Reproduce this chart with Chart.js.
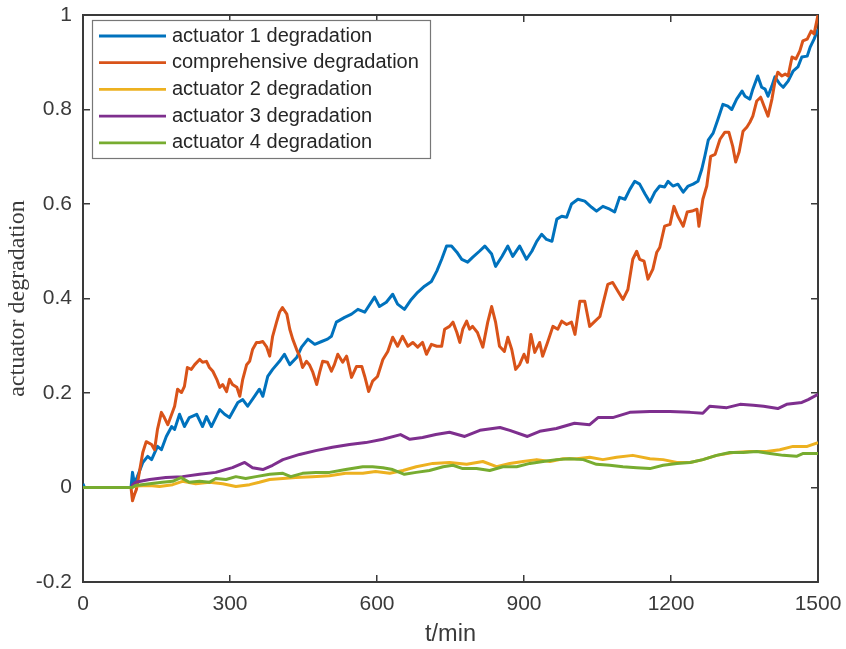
<!DOCTYPE html>
<html><head><meta charset="utf-8">
<script src="https://cdn.jsdelivr.net/npm/chart.js@4.4.1/dist/chart.umd.min.js"></script>
<style>html,body{margin:0;padding:0;background:#fff}#wrap{width:846px;height:649px}</style>
</head><body><div id="wrap"><canvas id="c" width="846" height="649"></canvas></div>
<script>
const xTicks = [0, 300, 600, 900, 1200, 1500];
const xTickLabels = ['0', '300', '600', '900', '1200', '1500'];
const yTicks = [-0.2, 0, 0.2, 0.4, 0.6, 0.8, 1];
const yTickLabels = ['-0.2', '0', '0.2', '0.4', '0.6', '0.8', '1'];
const xTitle = 't/min';
const yTitle = 'actuator degradation';
const seriesNames = ['actuator 1 degradation', 'comprehensive degradation', 'actuator 2 degradation', 'actuator 3 degradation', 'actuator 4 degradation'];
const seriesColors = ['#0072BD', '#D95319', '#EDB120', '#7E2F8E', '#77AC30'];

const act1Time = [0,3,98,101,105,111,122,132,140,152,160,170,181,187,197,207,217,232,244,252,262,279,289,299,316,326,336,350,360,367,377,387,401,411,422,436,446,459,473,487,499,507,517,534,548,561,575,595,605,619,632,642,656,670,683,697,711,722,732,742,752,763,773,785,795,809,820,834,842,855,867,877,891,905,916,926,936,946,957,967,977,987,997,1010,1024,1038,1048,1061,1075,1085,1095,1106,1116,1126,1136,1147,1157,1167,1177,1187,1194,1204,1214,1225,1235,1245,1255,1263,1269,1276,1286,1296,1306,1316,1324,1334,1345,1351,1361,1367,1377,1385,1392,1398,1406,1412,1422,1429,1439,1449,1459,1467,1478,1484,1492,1500];
const act1Value = [0.008,0,0,0.032,0.008,0.023,0.053,0.066,0.059,0.087,0.08,0.108,0.129,0.123,0.155,0.129,0.148,0.155,0.129,0.15,0.129,0.165,0.155,0.148,0.18,0.186,0.172,0.193,0.208,0.193,0.235,0.25,0.267,0.282,0.26,0.275,0.297,0.314,0.303,0.309,0.314,0.32,0.35,0.36,0.367,0.377,0.371,0.403,0.383,0.392,0.409,0.388,0.377,0.398,0.413,0.426,0.436,0.458,0.483,0.511,0.511,0.498,0.483,0.477,0.487,0.5,0.511,0.494,0.468,0.489,0.511,0.489,0.511,0.483,0.5,0.521,0.536,0.525,0.521,0.568,0.574,0.572,0.6,0.61,0.606,0.593,0.585,0.595,0.589,0.583,0.614,0.61,0.631,0.648,0.642,0.621,0.604,0.625,0.638,0.636,0.648,0.638,0.642,0.625,0.638,0.642,0.648,0.674,0.701,0.735,0.75,0.78,0.811,0.807,0.8,0.822,0.839,0.828,0.822,0.843,0.871,0.847,0.843,0.828,0.85,0.869,0.854,0.847,0.86,0.881,0.89,0.911,0.913,0.932,0.949,0.97];

const compTime = [0,98,101,105,109,116,122,129,140,146,152,160,166,173,181,187,193,201,207,213,221,228,238,244,252,258,265,273,279,285,293,299,305,314,320,326,334,340,346,354,360,367,375,381,387,395,401,407,416,422,428,436,442,448,456,462,469,477,483,489,499,507,513,520,530,538,548,558,569,575,583,591,601,612,622,632,642,652,663,673,683,693,701,711,722,732,738,748,755,763,769,775,783,789,795,805,816,826,834,842,850,860,867,875,883,891,900,907,914,922,932,938,948,959,969,977,987,997,1004,1014,1024,1034,1045,1055,1061,1071,1081,1092,1102,1112,1122,1130,1136,1145,1153,1163,1171,1177,1187,1198,1206,1214,1225,1233,1243,1253,1257,1265,1273,1281,1290,1300,1310,1318,1326,1332,1339,1347,1355,1361,1367,1375,1383,1390,1398,1406,1412,1418,1426,1433,1439,1447,1455,1463,1469,1478,1486,1492,1500];
const compValue = [0,0,-0.028,-0.015,-0.004,0.038,0.074,0.097,0.091,0.08,0.123,0.159,0.148,0.133,0.155,0.172,0.208,0.201,0.214,0.254,0.25,0.26,0.271,0.265,0.267,0.254,0.246,0.229,0.212,0.218,0.203,0.229,0.218,0.212,0.193,0.229,0.26,0.267,0.292,0.307,0.307,0.309,0.297,0.278,0.32,0.35,0.371,0.381,0.367,0.335,0.314,0.292,0.278,0.254,0.267,0.26,0.244,0.218,0.244,0.267,0.265,0.246,0.26,0.282,0.265,0.278,0.233,0.256,0.256,0.235,0.203,0.225,0.235,0.271,0.288,0.318,0.299,0.32,0.299,0.307,0.297,0.307,0.282,0.303,0.299,0.299,0.335,0.341,0.35,0.328,0.307,0.335,0.352,0.335,0.341,0.328,0.297,0.35,0.383,0.35,0.299,0.288,0.318,0.292,0.25,0.26,0.282,0.265,0.324,0.286,0.307,0.278,0.307,0.341,0.335,0.352,0.345,0.35,0.324,0.394,0.394,0.341,0.352,0.362,0.388,0.43,0.434,0.415,0.398,0.419,0.483,0.5,0.483,0.479,0.441,0.462,0.498,0.508,0.553,0.557,0.595,0.574,0.553,0.583,0.585,0.589,0.553,0.61,0.638,0.701,0.705,0.737,0.752,0.752,0.722,0.689,0.71,0.754,0.763,0.773,0.786,0.818,0.826,0.807,0.786,0.822,0.858,0.879,0.871,0.875,0.871,0.911,0.907,0.924,0.945,0.949,0.966,0.96,1.0];

const act2Time = [0,100,107,136,156,183,203,230,258,285,312,340,360,381,408,434,468,503,536,571,597,626,653,680,714,748,783,816,844,871,898,926,953,980,1008,1034,1061,1089,1122,1157,1184,1212,1239,1265,1293,1327,1361,1395,1422,1449,1478,1500];
const act2Value = [0,0,0.003,0.004,0.002,0.006,0.013,0.008,0.011,0.008,0.002,0.006,0.011,0.017,0.019,0.021,0.023,0.025,0.03,0.03,0.034,0.03,0.036,0.044,0.051,0.053,0.049,0.055,0.044,0.051,0.055,0.059,0.055,0.061,0.061,0.064,0.059,0.064,0.068,0.061,0.059,0.053,0.053,0.059,0.068,0.074,0.076,0.076,0.08,0.087,0.087,0.095];

const act3Time = [0,99,101,107,136,169,203,238,271,305,330,346,367,387,408,442,475,509,544,577,612,648,667,693,720,748,779,810,851,871,907,932,966,1003,1034,1051,1081,1116,1157,1198,1239,1265,1279,1314,1341,1368,1389,1418,1436,1467,1480,1500];
const act3Value = [0,0,0.005,0.011,0.017,0.021,0.023,0.028,0.032,0.042,0.053,0.042,0.038,0.047,0.059,0.07,0.078,0.085,0.091,0.095,0.102,0.112,0.102,0.106,0.112,0.117,0.108,0.121,0.127,0.121,0.108,0.119,0.125,0.136,0.133,0.148,0.148,0.159,0.161,0.161,0.159,0.157,0.172,0.169,0.176,0.174,0.172,0.167,0.176,0.18,0.186,0.197];

const act4Time = [0,100,107,136,162,183,200,217,238,258,271,292,312,332,353,381,408,424,448,475,503,536,571,591,612,632,656,680,707,735,755,775,803,830,857,885,912,939,966,993,1021,1048,1075,1102,1130,1157,1184,1212,1239,1265,1293,1320,1347,1375,1402,1429,1456,1470,1500];
const act4Value = [0,0,0.004,0.008,0.011,0.013,0.021,0.011,0.013,0.011,0.019,0.017,0.023,0.019,0.023,0.028,0.03,0.023,0.03,0.032,0.032,0.038,0.044,0.044,0.042,0.038,0.028,0.032,0.036,0.044,0.047,0.04,0.04,0.036,0.044,0.044,0.051,0.055,0.059,0.061,0.059,0.049,0.047,0.044,0.042,0.04,0.047,0.051,0.053,0.059,0.068,0.074,0.074,0.076,0.072,0.068,0.066,0.072,0.072];

const seriesTimes = [act1Time, compTime, act2Time, act3Time, act4Time];
const seriesValues = [act1Value, compValue, act2Value, act3Value, act4Value];

function pairs(ts, vs) {
  const n = Math.min(ts.length, vs.length);
  const out = [];
  for (let i = 0; i < n; i++) out.push({x: ts[i], y: vs[i]});
  return out;
}

const datasets = seriesNames.map((name, i) => ({
  label: name,
  data: pairs(seriesTimes[i], seriesValues[i]),
  borderColor: seriesColors[i],
  backgroundColor: seriesColors[i],
  borderWidth: 3,
  pointRadius: 0,
  tension: 0,
  fill: false,
  borderJoinStyle: 'round',
  order: seriesNames.length - i
}));

const AX = '#3a3a3a';
const tickFont = {family: '"Liberation Sans", Arial, Helvetica, sans-serif', size: 21};

function fixBox(w, h) {
  return function(scale) {
    if (w !== null) scale.width = w;
    if (h !== null) scale.height = h;
    scale.paddingLeft = 0; scale.paddingRight = 0; scale.paddingTop = 0; scale.paddingBottom = 0;
  };
}
function setTicks(vals) {
  return function(scale) { scale.ticks = vals.map(v => ({value: v})); };
}

const legendBox = {
  id: 'legendBox',
  afterDraw(chart) {
    const ctx = chart.ctx, a = chart.chartArea;
    const x0 = a.left + 9, y0 = a.top + 5, w = 338, h = 138;
    ctx.save();
    ctx.fillStyle = '#ffffff';
    ctx.fillRect(x0, y0, w, h);
    ctx.strokeStyle = '#777777';
    ctx.lineWidth = 1.2;
    ctx.strokeRect(x0 + 0.5, y0 + 0.5, w, h);
    ctx.font = '20px "Liberation Sans", Arial, Helvetica, sans-serif';
    ctx.textBaseline = 'middle';
    ctx.textAlign = 'left';
    chart.data.datasets.forEach((ds, i) => {
      const y = y0 + 16 + i * 26.7;
      ctx.strokeStyle = ds.borderColor;
      ctx.lineWidth = 2.8;
      ctx.beginPath();
      ctx.moveTo(x0 + 7, y);
      ctx.lineTo(x0 + 74, y);
      ctx.stroke();
      ctx.fillStyle = '#262626';
      ctx.fillText(ds.label, x0 + 80, y);
    });
    ctx.restore();
  }
};

new Chart(document.getElementById('c'), {
  type: 'line',
  data: {datasets: datasets},
  plugins: [legendBox],
  options: {
    responsive: false,
    animation: false,
    events: [],
    layout: {padding: {left: 0, top: 15, right: 28, bottom: 0}},
    plugins: {legend: {display: false}, tooltip: {enabled: false}},
    scales: {
      x: {
        type: 'linear', position: 'bottom', min: 0, max: 1500,
        afterBuildTicks: setTicks(xTicks),
        afterFit: fixBox(null, 67),
        ticks: {font: tickFont, color: AX, padding: 17, maxRotation: 0, autoSkip: false,
                callback: (v, i) => xTickLabels[i]},
        grid: {drawOnChartArea: false, drawTicks: true, tickLength: -7, color: AX, lineWidth: 1.5},
        border: {display: true, color: AX, width: 2},
        title: {display: true, text: xTitle, color: AX,
                font: {family: '"Liberation Sans", Arial, Helvetica, sans-serif', size: 23.5},
                padding: {top: 0, bottom: 0}}
      },
      y: {
        type: 'linear', position: 'left', min: -0.2, max: 1,
        afterBuildTicks: setTicks(yTicks),
        afterFit: fixBox(83, null),
        ticks: {font: tickFont, color: AX, padding: 18, autoSkip: false,
                callback: (v, i) => yTickLabels[i]},
        grid: {drawOnChartArea: false, drawTicks: true, tickLength: -7, color: AX, lineWidth: 1.5},
        border: {display: true, color: AX, width: 2},
        title: {display: true, text: yTitle, color: AX,
                font: {family: '"Liberation Serif", "Times New Roman", serif', size: 24},
                padding: {top: 3, bottom: 0}}
      },
      x2: {
        type: 'linear', position: 'top', min: 0, max: 1500,
        afterBuildTicks: setTicks(xTicks),
        afterFit: fixBox(null, 0),
        ticks: {display: false},
        grid: {drawOnChartArea: false, drawTicks: true, tickLength: -7, color: AX, lineWidth: 1.5},
        border: {display: true, color: AX, width: 2}
      },
      y2: {
        type: 'linear', position: 'right', min: -0.2, max: 1,
        afterBuildTicks: setTicks(yTicks),
        afterFit: fixBox(0, null),
        ticks: {display: false},
        grid: {drawOnChartArea: false, drawTicks: true, tickLength: -7, color: AX, lineWidth: 1.5},
        border: {display: true, color: AX, width: 2}
      }
    }
  }
});
</script>
</body></html>
